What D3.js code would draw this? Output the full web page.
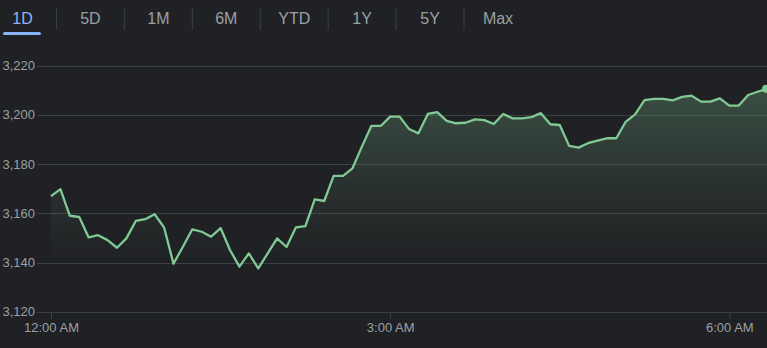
<!DOCTYPE html>
<html>
<head>
<meta charset="utf-8">
<script src="https://cdn.jsdelivr.net/npm/d3@7"></script>
<style>
  html, body { margin: 0; padding: 0; background: #202124; }
  svg { display: block; font-family: "Liberation Sans", Arial, sans-serif; }
</style>
</head>
<body>
<div id="chart"></div>
<script>
'use strict';

// range tabs across the top
var tabs = ['1D', '5D', '1M', '6M', 'YTD', '1Y', '5Y', 'Max'];

// 5 minute samples, 12:00 AM to 6:20 AM
var times = [
  '00:00','00:05','00:10','00:15','00:20','00:25','00:30','00:35','00:40','00:45','00:50','00:55',
  '01:00','01:05','01:10','01:15','01:20','01:25','01:30','01:35','01:40','01:45','01:50','01:55',
  '02:00','02:05','02:10','02:15','02:20','02:25','02:30','02:35','02:40','02:45','02:50','02:55',
  '03:00','03:05','03:10','03:15','03:20','03:25','03:30','03:35','03:40','03:45','03:50','03:55',
  '04:00','04:05','04:10','04:15','04:20','04:25','04:30','04:35','04:40','04:45','04:50','04:55',
  '05:00','05:05','05:10','05:15','05:20','05:25','05:30','05:35','05:40','05:45','05:50','05:55',
  '06:00','06:05','06:10','06:15','06:20'
];

var prices = [
  3167.0, 3169.8, 3159.0, 3158.5, 3150.2, 3151.1, 3149.1, 3146.0, 3149.8, 3156.9, 3157.6, 3159.6,
  3154.3, 3139.5, 3146.4, 3153.5, 3152.5, 3150.5, 3154.0, 3145.1, 3138.3, 3143.7, 3137.6, 3143.7,
  3149.8, 3146.3, 3154.3, 3154.8, 3165.7, 3165.0, 3175.2, 3175.2, 3178.3, 3187.1, 3195.5, 3195.5,
  3199.3, 3199.3, 3194.3, 3192.5, 3200.4, 3201.1, 3197.6, 3196.6, 3196.8, 3198.2, 3197.9, 3196.3,
  3200.4, 3198.6, 3198.6, 3199.1, 3200.7, 3196.2, 3195.9, 3187.4, 3186.7, 3188.5, 3189.5, 3190.5,
  3190.5, 3197.2, 3200.2, 3206.0, 3206.5, 3206.5, 3205.9, 3207.3, 3207.8, 3205.4, 3205.4, 3206.7,
  3203.8, 3203.8, 3208.1, 3209.4, 3210.6
];

var yTicks = [3120, 3140, 3160, 3180, 3200, 3220];
var xTicks = ['00:00', '03:00', '06:00'];

var width = 767,
    height = 348,
    lineColor = '#81c995',
    gridColor = '#3c4043',
    textColor = '#9aa0a6';

var parseTime = d3.timeParse('%H:%M');
var data = times.map(function (t, i) {
  return { time: parseTime(t), price: prices[i] };
});

var svg = d3.select('#chart').append('svg')
  .attr('width', width)
  .attr('height', height);

// tabs
var tabX = d3.scalePoint().domain(tabs).range([22.5, 498]);
var tabG = svg.append('g');
tabG.selectAll('text.tab').data(tabs).enter().append('text')
  .attr('class', 'tab')
  .attr('x', function (d) { return tabX(d); })
  .attr('y', 24)
  .attr('text-anchor', 'middle')
  .attr('font-size', 16)
  .attr('fill', function (d, i) { return i === 0 ? '#8ab4f8' : textColor; })
  .text(function (d) { return d; });

tabG.selectAll('line.sep').data(tabs.slice(1)).enter().append('line')
  .attr('class', 'sep')
  .attr('x1', function (d) { return tabX(d) - tabX.step() / 2; })
  .attr('x2', function (d) { return tabX(d) - tabX.step() / 2; })
  .attr('y1', 8)
  .attr('y2', 30)
  .attr('stroke', gridColor)
  .attr('stroke-width', 1);

tabG.append('rect')
  .attr('x', 3)
  .attr('y', 32)
  .attr('width', 38)
  .attr('height', 3)
  .attr('rx', 1.5)
  .attr('fill', '#8ab4f8');

// scales
var x = d3.scaleTime()
  .domain([parseTime('00:00'), parseTime('06:20')])
  .range([51, 767]);

var y = d3.scaleLinear()
  .domain([3120, 3220])
  .range([311.7, 65.7]);

// grid + y labels
var grid = svg.append('g');
grid.selectAll('line').data(yTicks).enter().append('line')
  .attr('x1', 37)
  .attr('x2', width)
  .attr('y1', function (d) { return Math.round(y(d)) + 0.5; })
  .attr('y2', function (d) { return Math.round(y(d)) + 0.5; })
  .attr('stroke', gridColor)
  .attr('stroke-width', 1);

grid.selectAll('text').data(yTicks).enter().append('text')
  .attr('x', 35)
  .attr('y', function (d) { return y(d); })
  .attr('dy', '0.35em')
  .attr('text-anchor', 'end')
  .attr('font-size', 13)
  .attr('fill', textColor)
  .text(d3.format(','));

// x axis
var xAxis = d3.axisBottom(x)
  .tickValues(xTicks.map(parseTime))
  .tickSize(7)
  .tickPadding(3)
  .tickFormat(d3.timeFormat('%-I:%M %p'));

var xg = svg.append('g')
  .attr('transform', 'translate(0,' + (Math.round(y(3120)) + 0.5) + ')')
  .call(xAxis);
xg.select('.domain').remove();
xg.selectAll('line').attr('stroke', gridColor);
xg.selectAll('text')
  .attr('fill', textColor)
  .attr('font-size', 13)
  .attr('font-family', '"Liberation Sans", Arial, sans-serif');

// area gradient, fades out well before the baseline
var defs = svg.append('defs');
var grad = defs.append('linearGradient')
  .attr('id', 'fade')
  .attr('gradientUnits', 'userSpaceOnUse')
  .attr('x1', 0).attr('x2', 0)
  .attr('y1', y(d3.max(prices)))
  .attr('y2', y(3140));
grad.append('stop').attr('offset', 0).attr('stop-color', lineColor).attr('stop-opacity', 0.27);
grad.append('stop').attr('offset', 0.5).attr('stop-color', lineColor).attr('stop-opacity', 0.11);
grad.append('stop').attr('offset', 1).attr('stop-color', lineColor).attr('stop-opacity', 0);

var area = d3.area()
  .x(function (d) { return x(d.time); })
  .y0(y(3120))
  .y1(function (d) { return y(d.price); });

var line = d3.line()
  .x(function (d) { return x(d.time); })
  .y(function (d) { return y(d.price); });

svg.append('path')
  .datum(data)
  .attr('d', area)
  .attr('fill', 'url(#fade)');

svg.append('path')
  .datum(data)
  .attr('d', line)
  .attr('fill', 'none')
  .attr('stroke', lineColor)
  .attr('stroke-width', 2.3)
  .attr('stroke-linejoin', 'round');

// last point marker
var last = data[data.length - 1];
svg.append('circle')
  .attr('cx', x(last.time) - 1)
  .attr('cy', y(last.price))
  .attr('r', 4)
  .attr('fill', lineColor);
</script>
</body>
</html>
